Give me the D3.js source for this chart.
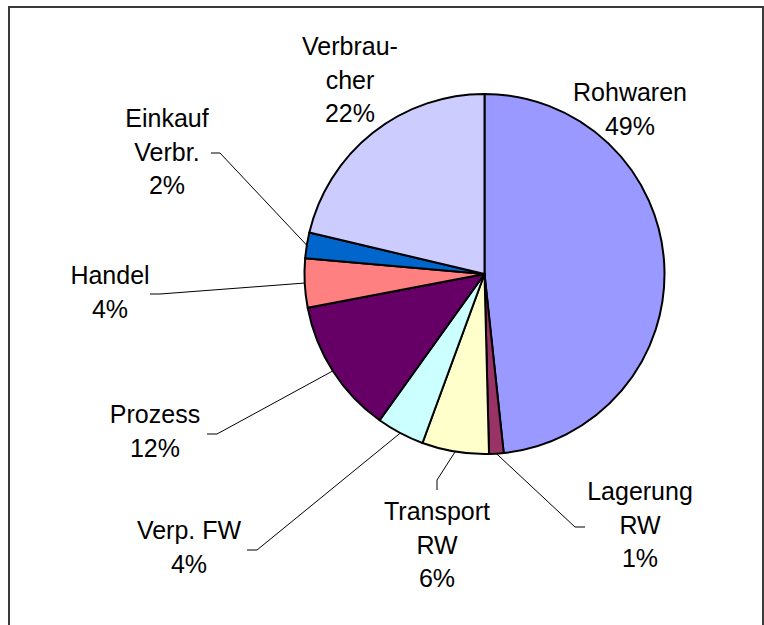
<!DOCTYPE html>
<html>
<head>
<meta charset="utf-8">
<script src="https://cdn.jsdelivr.net/npm/d3@7"></script>
<style>
  body { margin: 0; background: #fff; }
  svg text { font-family: "Liberation Sans", Arial, sans-serif; font-size: 25px; fill: #000; }
</style>
</head>
<body>
<div id="chart"></div>
<script>
// slices clockwise from 12 o'clock
var names = [["Rohwaren"], ["Lagerung", "RW"], ["Transport", "RW"], ["Verp. FW"], ["Prozess"], ["Handel"], ["Einkauf", "Verbr."], ["Verbrau-", "cher"]]
var shares = [48.3, 1.3, 6.0, 4.3, 12.1, 4.4, 2.3, 21.3]
var pctLabels = ["49%", "1%", "6%", "4%", "12%", "4%", "2%", "22%"]
var colors = ["#9999FF", "#993366", "#FFFFCC", "#CCFFFF", "#660066", "#FF8080", "#0066CC", "#CCCCFF"]

// label layout: centre x, first baseline, and leader (text end, elbow)
var labelAt = [[630, 101], [640, 500], [437, 520], [189, 539], [155, 423], [110, 284], [167, 127], [350, 55]]
var leaders = [null, [[585, 527], [575, 527]], [[437, 490], [437, 480]], [[247, 550], [257, 550]],
    [[207, 434], [217, 434]], [[150, 294], [160, 294]], [[211, 153], [220, 153]], null]

var width = 764, height = 625
var cx = 484.5, cy = 274, radius = 180
var lineH = 33.5

var svg = d3.select("#chart").append("svg")
    .attr("width", width)
    .attr("height", height)

// frame
svg.append("rect")
    .attr("x", 9).attr("y", 7)
    .attr("width", 754).attr("height", 640)
    .attr("fill", "none")
    .attr("stroke", "#3a3a3a")
    .attr("stroke-width", 2)

var pie = d3.pie().sort(null).value(function (d) { return d })
var arcs = pie(shares)
var arc = d3.arc().innerRadius(0).outerRadius(radius)

var g = svg.append("g").attr("transform", "translate(" + cx + "," + cy + ")")

g.selectAll("path.slice")
    .data(arcs)
    .enter().append("path")
    .attr("class", "slice")
    .attr("d", arc)
    .attr("fill", function (d, i) { return colors[i] })
    .attr("stroke", "#000")
    .attr("stroke-width", 2)
    .attr("stroke-linejoin", "round")

// leader lines
arcs.forEach(function (d, i) {
    if (!leaders[i]) return
    var mid = (d.startAngle + d.endAngle) / 2
    var px = cx + radius * Math.sin(mid)
    var py = cy - radius * Math.cos(mid)
    var pts = [leaders[i][0], leaders[i][1], [px, py]]
    svg.append("path")
        .attr("d", d3.line()(pts))
        .attr("fill", "none")
        .attr("stroke", "#000")
        .attr("stroke-width", 1)
})

// labels
arcs.forEach(function (d, i) {
    var lines = names[i].concat([pctLabels[i]])
    var t = svg.append("text")
        .attr("text-anchor", "middle")
        .attr("x", labelAt[i][0])
        .attr("y", labelAt[i][1])
    lines.forEach(function (s, k) {
        t.append("tspan")
            .attr("x", labelAt[i][0])
            .attr("y", labelAt[i][1] + k * lineH)
            .text(s)
    })
})
</script>
</body>
</html>
